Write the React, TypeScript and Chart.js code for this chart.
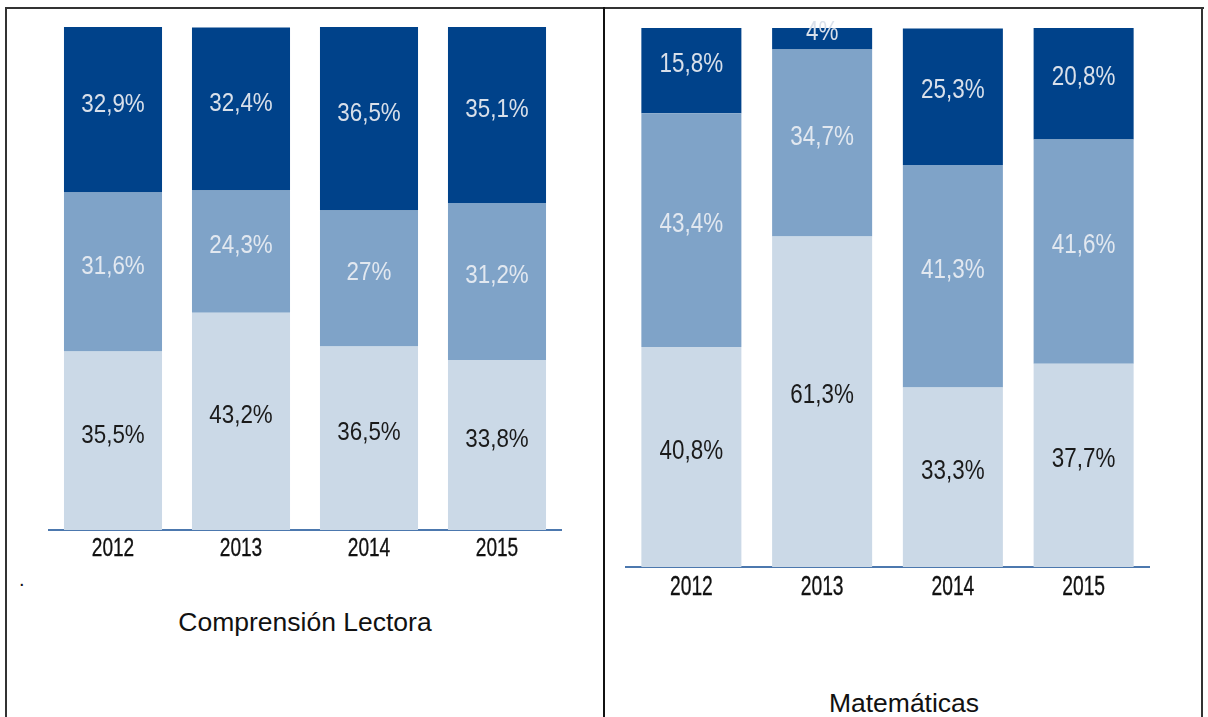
import React, { useEffect, useRef } from "react";
import { Chart, registerables } from "chart.js";

Chart.register(...registerables);

const years = ["2012", "2013", "2014", "2015"];

const lecturaInicio = [35.5, 43.2, 36.5, 33.8];
const lecturaProceso = [31.6, 24.3, 27, 31.2];
const lecturaSatisfactorio = [32.9, 32.4, 36.5, 35.1];

const mateInicio = [40.8, 61.3, 33.3, 37.7];
const mateProceso = [43.4, 34.7, 41.3, 41.6];
const mateSatisfactorio = [15.8, 4, 25.3, 20.8];

const COLOR_DARK = "#00428a";
const COLOR_MID = "#7fa3c8";
const COLOR_LIGHT = "#cbd9e7";

type LabelCfg = { size: number; scaleX: number; offset: number };
type TickCfg = { size: number; scaleX: number; baseline: number };

const makeLabelPlugin = (cfg: LabelCfg) => ({
  id: "barLabels",
  afterDatasetsDraw(chart: any) {
    const ctx = chart.ctx;
    chart.data.datasets.forEach((ds: any, di: number) => {
      const meta = chart.getDatasetMeta(di);
      meta.data.forEach((el: any, i: number) => {
        const v = ds.data[i];
        const { x, y, base } = el.getProps(["x", "y", "base"], true);
        const cy = (y + base) / 2 + cfg.offset;
        ctx.save();
        ctx.translate(x, cy + cfg.size * 0.358);
        ctx.scale(cfg.scaleX, 1);
        ctx.font = `${cfg.size}px "Liberation Sans", Arial, sans-serif`;
        ctx.textAlign = "center";
        ctx.textBaseline = "alphabetic";
        ctx.fillStyle = ds.textColor;
        ctx.fillText(String(v).replace(".", ",") + "%", 0, 0);
        ctx.restore();
      });
    });
  },
});

const makeTickPlugin = (cfg: TickCfg) => ({
  id: "narrowTicks",
  afterDraw(chart: any) {
    const ctx = chart.ctx;
    const xs = chart.scales.x;
    const labels: string[] = chart.data.labels;
    labels.forEach((lab, i) => {
      const x = xs.getPixelForValue(i);
      ctx.save();
      ctx.translate(x, chart.chartArea.bottom + cfg.baseline);
      ctx.scale(cfg.scaleX, 1);
      ctx.font = `${cfg.size}px "Liberation Sans", Arial, sans-serif`;
      ctx.textAlign = "center";
      ctx.textBaseline = "alphabetic";
      ctx.fillStyle = "#111111";
      ctx.strokeStyle = "#111111";
      ctx.lineWidth = 0.35;
      ctx.fillText(lab, 0, 0);
      ctx.strokeText(lab, 0, 0);
      ctx.restore();
    });
  },
});

type ChartProps = {
  inicio: number[];
  proceso: number[];
  satisfactorio: number[];
  left: number;
  top: number;
  width: number;
  height: number;
  padding: { left: number; right: number; top: number; bottom: number };
  barPct: number;
  tickCfg: TickCfg;
  labelCfg: LabelCfg;
};

function StackedChart(props: ChartProps) {
  const ref = useRef<HTMLCanvasElement | null>(null);
  useEffect(() => {
    if (!ref.current) return;
    const common = { barPercentage: props.barPct, categoryPercentage: 1, borderWidth: 0 };
    const chart = new Chart(ref.current, {
      type: "bar",
      data: {
        labels: years,
        datasets: [
          { label: "En inicio", data: props.inicio, backgroundColor: COLOR_LIGHT, textColor: "#1a1a1a", ...common } as any,
          { label: "En proceso", data: props.proceso, backgroundColor: COLOR_MID, textColor: "#e2e8f0", ...common } as any,
          { label: "Satisfactorio", data: props.satisfactorio, backgroundColor: COLOR_DARK, textColor: "#d9e0ea", ...common } as any,
        ],
      },
      options: {
        responsive: false,
        animation: false,
        layout: { padding: props.padding },
        plugins: { legend: { display: false }, tooltip: { enabled: false } },
        scales: {
          x: {
            stacked: true,
            grid: { display: false, drawTicks: false },
            border: { display: true, color: "#4c78ae", width: 2 },
            ticks: { display: false },
            afterFit: (s: any) => {
              s.height = 40;
            },
          },
          y: { stacked: true, display: false, min: 0, max: 100 },
        },
      },
      plugins: [makeLabelPlugin(props.labelCfg), makeTickPlugin(props.tickCfg)],
    });
    return () => chart.destroy();
  }, []);
  return (
    <canvas
      ref={ref}
      width={props.width}
      height={props.height}
      style={{ position: "absolute", left: props.left, top: props.top, width: props.width, height: props.height }}
    />
  );
}

export default function App() {
  const line = "#333333";
  return (
    <div
      style={{
        position: "absolute",
        left: 0,
        top: 0,
        width: 1208,
        height: 717,
        overflow: "hidden",
        background: "#ffffff",
        fontFamily: '"Liberation Sans", Arial, sans-serif',
      }}
    >
      <div style={{ position: "absolute", left: 5, top: 7, width: 1199, height: 2, background: line }} />
      <div style={{ position: "absolute", left: 5, top: 7, width: 2, height: 720, background: line }} />
      <div style={{ position: "absolute", left: 603, top: 7, width: 1.5, height: 720, background: "#111" }} />
      <div style={{ position: "absolute", left: 1201, top: 7, width: 2, height: 720, background: line }} />

      <StackedChart
        inicio={lecturaInicio}
        proceso={lecturaProceso}
        satisfactorio={lecturaSatisfactorio}
        left={40}
        top={20}
        width={530}
        height={560}
        padding={{ left: 9, right: 9, top: 7, bottom: 10 }}
        barPct={0.766}
        tickCfg={{ size: 26.5, scaleX: 0.72, baseline: 26 }}
        labelCfg={{ size: 26, scaleX: 0.86, offset: -7.5 }}
      />
      <StackedChart
        inicio={mateInicio}
        proceso={mateProceso}
        satisfactorio={mateSatisfactorio}
        left={615}
        top={20}
        width={545}
        height={600}
        padding={{ left: 11, right: 11, top: 8, bottom: 13 }}
        barPct={0.765}
        tickCfg={{ size: 27.5, scaleX: 0.7, baseline: 28 }}
        labelCfg={{ size: 27, scaleX: 0.83, offset: -8 }}
      />

      <div style={{ position: "absolute", left: 19, top: 568, fontSize: 20, color: "#111" }}>.</div>
      <div
        style={{
          position: "absolute",
          left: 105,
          width: 400,
          top: 607,
          textAlign: "center",
          fontSize: 26.5,
          lineHeight: "30px",
          color: "#111",
        }}
      >
        Comprensión Lectora
      </div>
      <div
        style={{
          position: "absolute",
          left: 704,
          width: 400,
          top: 688,
          textAlign: "center",
          fontSize: 26.5,
          lineHeight: "30px",
          color: "#111",
        }}
      >
        Matemáticas
      </div>
    </div>
  );
}
